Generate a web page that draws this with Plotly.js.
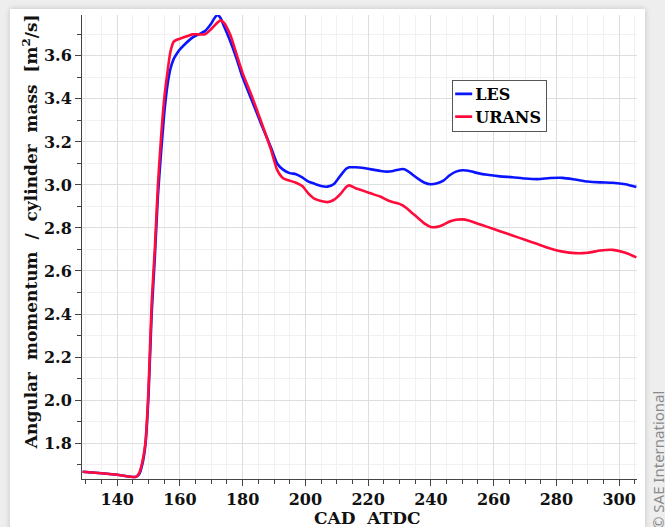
<!DOCTYPE html>
<html>
<head>
<meta charset="utf-8">
<script src="https://cdn.plot.ly/plotly-3.0.1.min.js"></script>
<style>
  html, body { margin: 0; padding: 0; width: 665px; height: 527px; overflow: hidden; background: #eeeeee; }
  #card { position: absolute; left: 10px; top: 9px; width: 635px; height: 540px; background: #ffffff;
          box-shadow: 0 0 6px rgba(0,0,0,0.18); }
  #chart { position: absolute; left: 0; top: 0; width: 665px; height: 527px; }
</style>
</head>
<body>
<div id="card"></div>
<div id="chart"></div>
<script>
// Crank angle (CAD ATDC)
const cad = [129, 135, 140, 146, 147, 148, 149, 150, 151, 152, 153, 154, 155, 156, 157, 158, 159, 160, 162, 164,
  166, 168, 170, 171, 172, 173, 174, 176, 178, 180, 183, 186, 189, 191, 193, 195, 197, 199, 201, 203,
  205, 207, 209, 211, 213, 214, 216, 218, 220, 222, 224, 226, 228, 230, 231, 232, 234, 236, 238, 240,
  242, 244, 246, 248, 250, 252, 255, 258, 262, 266, 270, 274, 278, 282, 286, 290, 294, 298, 302, 305.5];

// LES angular momentum / cylinder mass [m^2/s]
const les = [1.667, 1.660, 1.653, 1.643, 1.655, 1.700, 1.790, 2.020, 2.400, 2.660, 2.950, 3.150, 3.330, 3.460, 3.540, 3.585, 3.610, 3.630, 3.660, 3.685,
  3.700, 3.715, 3.750, 3.775, 3.790, 3.775, 3.740, 3.670, 3.590, 3.500, 3.390, 3.280, 3.175, 3.100, 3.070, 3.055, 3.050, 3.035, 3.015, 3.005,
  2.995, 2.992, 3.003, 3.040, 3.075, 3.082, 3.082, 3.080, 3.075, 3.070, 3.065, 3.062, 3.065, 3.072, 3.074, 3.070, 3.050, 3.028, 3.010, 3.003,
  3.008, 3.020, 3.045, 3.062, 3.068, 3.066, 3.055, 3.047, 3.040, 3.036, 3.030, 3.027, 3.032, 3.033, 3.025, 3.016, 3.012, 3.010, 3.003, 2.990];

// URANS angular momentum / cylinder mass [m^2/s]
const urans = [1.667, 1.660, 1.653, 1.643, 1.660, 1.710, 1.800, 2.050, 2.450, 2.700, 3.000, 3.220, 3.400, 3.520, 3.620, 3.665, 3.675, 3.680, 3.690, 3.700,
  3.700, 3.700, 3.725, 3.740, 3.755, 3.765, 3.755, 3.700, 3.610, 3.520, 3.410, 3.290, 3.165, 3.070, 3.030, 3.020, 3.010, 2.995, 2.960, 2.935,
  2.925, 2.920, 2.930, 2.955, 2.990, 2.998, 2.985, 2.975, 2.965, 2.955, 2.945, 2.930, 2.920, 2.912, 2.905, 2.895, 2.870, 2.845, 2.820, 2.805,
  2.805, 2.815, 2.830, 2.838, 2.840, 2.835, 2.820, 2.805, 2.785, 2.765, 2.745, 2.725, 2.705, 2.690, 2.683, 2.685, 2.695, 2.698, 2.685, 2.663];

const seriesNames = ['LES', 'URANS'];
const xTitle = 'CAD\u00A0 ATDC';
const yTitle = 'Angular\u00A0 momentum\u00A0 /\u00A0 cylinder\u00A0 mass\u00A0 [m<sup>2</sup>/s]';
const credit = '\u00A9 SAE International';

const serif = 'DejaVu Serif, Liberation Serif, serif';
const yRange = [1.633, 3.79];
const titleFont = { family: serif, size: 17, weight: 'bold', color: '#111' };

const traces = [
  { x: cad, y: les, name: seriesNames[0], type: 'scatter', mode: 'lines',
    line: { color: '#0a14ff', width: 2.6, shape: 'spline', smoothing: 0.6 } },
  { x: cad, y: urans, name: seriesNames[1], type: 'scatter', mode: 'lines',
    line: { color: '#ff0c3c', width: 2.6, shape: 'spline', smoothing: 0.6 } }
];

const layout = {
  width: 665, height: 527,
  margin: { l: 82, r: 28, t: 15, b: 48 },
  paper_bgcolor: 'rgba(0,0,0,0)',
  plot_bgcolor: 'rgba(0,0,0,0)',
  font: { family: serif, size: 16, color: '#111' },
  showlegend: true,
  legend: {
    x: 0.667, y: 0.86, xanchor: 'left', yanchor: 'top',
    bgcolor: '#ffffff', bordercolor: '#555', borderwidth: 1,
    font: { family: serif, size: 16, color: '#000', weight: 'bold' },
    itemwidth: 30, tracegroupgap: 0
  },
  xaxis: {
    range: [128.8, 305.7], dtick: 20, tick0: 0,
    ticks: 'outside', ticklen: 6, tickcolor: '#444',
    showline: true, linecolor: '#444', linewidth: 1,
    showgrid: true, gridcolor: '#dedede', zeroline: false,
    tickfont: { family: serif, size: 16, weight: 'bold', color: '#111' },
    minor: { dtick: 5, ticks: 'outside', ticklen: 4, tickcolor: '#444', showgrid: true, gridcolor: '#f1f1f1' }
  },
  yaxis: {
    range: yRange, dtick: 0.2, tick0: 0, tickformat: '.1f',
    ticks: 'outside', ticklen: 6, tickcolor: '#444',
    showline: true, linecolor: '#444', linewidth: 1,
    showgrid: true, gridcolor: '#dedede', zeroline: false,
    tickfont: { family: serif, size: 16, weight: 'bold', color: '#111' },
    minor: { dtick: 0.1, ticks: 'outside', ticklen: 4, tickcolor: '#444', showgrid: true, gridcolor: '#f1f1f1' }
  },
  yaxis2: {
    overlaying: 'y', anchor: 'x', side: 'left', range: yRange,
    dtick: 0.05, tick0: 0, ticks: 'outside', ticklen: 4, tickcolor: '#444',
    showticklabels: false, showgrid: false, showline: false, zeroline: false
  },
  annotations: [
    { text: xTitle, xref: 'paper', yref: 'paper', x: 0.5135, y: -0.084,
      xanchor: 'center', yanchor: 'middle', showarrow: false, font: titleFont },
    { text: yTitle, xref: 'paper', yref: 'paper', x: 0, xshift: -52, y: 0.532,
      xanchor: 'center', yanchor: 'middle', textangle: -90, showarrow: false, font: titleFont },
    { text: credit, xref: 'paper', yref: 'paper', x: 1.038, y: 0.041,
      xanchor: 'center', yanchor: 'middle', textangle: -90, showarrow: false,
      font: { family: 'Noto Sans, DejaVu Sans, sans-serif', size: 15, color: '#8a8a8a' } }
  ]
};

Plotly.newPlot('chart', traces, layout, { displayModeBar: false, staticPlot: true }).then(function (gd) {
  // compact legend: short line samples and tighter rows, as in the reference
  const shiftX = 18, shrinkY = 8;
  gd.querySelectorAll('.legend .legendlines path').forEach(function (p) { p.setAttribute('d', 'M2,0h17'); });
  gd.querySelectorAll('.legend text.legendtext').forEach(function (t) {
    t.setAttribute('x', String(parseFloat(t.getAttribute('x')) - shiftX));
  });
  gd.querySelectorAll('.legend g.traces').forEach(function (g, i) {
    const tr = g.getAttribute('transform') || '';
    const m = tr.match(/translate\(\s*([-\d.e]+)[ ,]+([-\d.e]+)\s*\)/);
    if (m) {
      g.setAttribute('transform', 'translate(' + m[1] + ',' + (parseFloat(m[2]) - 4 - i) + ')');
    }
  });
  gd.querySelectorAll('.legend rect.bg').forEach(function (r) {
    r.setAttribute('width', String(parseFloat(r.getAttribute('width')) - shiftX));
    r.setAttribute('height', String(parseFloat(r.getAttribute('height')) - shrinkY));
  });
});
</script>
</body>
</html>
